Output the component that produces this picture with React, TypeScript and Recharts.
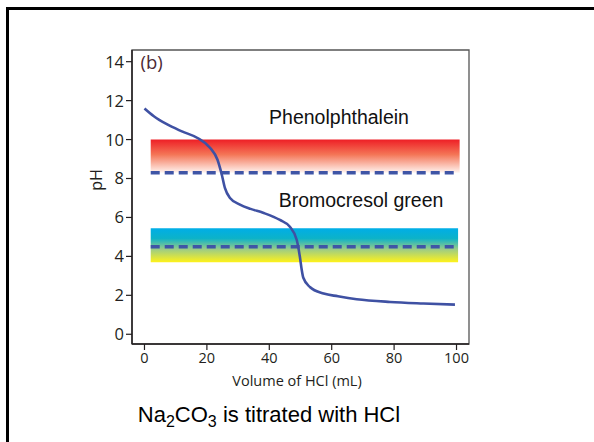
import React from 'react';
import { ComposedChart, Line, XAxis, YAxis, ReferenceArea, ReferenceLine } from 'recharts';

// Titration curve: volume of HCl (mL) vs pH
const volumes = [0, 3, 7, 12, 17, 21, 23.4, 24.8, 25.8, 27.4, 30.6, 34, 38, 43.4, 46.6, 48.8, 49.8, 50.4, 50.9, 53, 57.4, 62, 68, 78.7, 89.4, 99.5];
const phValues = [11.6, 11.2, 10.8, 10.42, 10.08, 9.58, 8.96, 8.18, 7.5, 7.0, 6.66, 6.44, 6.24, 5.87, 5.52, 4.84, 3.98, 3.3, 2.9, 2.43, 2.09, 1.95, 1.8, 1.66, 1.58, 1.52];

const xTicks = [0, 20, 40, 60, 80, 100];
const yTicks = [0, 2, 4, 6, 8, 10, 12, 14];
const xDomain = [-4, 104];
const yDomain = [-0.5, 14.6];

// Indicator ranges
const phenolRange = [8.3, 10];
const phenolEndpoint = 8.3;
const phenolX = [2, 101];
const bcgRange = [3.7, 5.45];
const bcgEndpoint = 4.5;
const bcgX = [2, 100.5];

const data = volumes.map((v, i) => ({ v, ph: phValues[i] }));

const tickColor = '#231f20';
const curveColor = '#3f51a3';
const dashColor = '#3f55a6';

const XTick = (props: any) => {
  const { x, y, payload } = props;
  return (
    <text x={x} y={y} dy="0.75em" textAnchor="middle" fontFamily="Open Sans" fontSize={14.5} fill={tickColor}>
      {payload.value}
    </text>
  );
};

const YTick = (props: any) => {
  const { x, y, payload } = props;
  return (
    <text x={x} y={y} dy="0.36em" textAnchor="end" fontFamily="Open Sans" fontSize={16.5} fill={tickColor}>
      {payload.value}
    </text>
  );
};

export default function App() {
  return (
    <div style={{ position: 'absolute', left: 0, top: 0, width: 594, height: 442, overflow: 'hidden', background: '#fff' }}>
      <div
        style={{
          position: 'absolute',
          left: 6,
          top: 7,
          width: 700,
          height: 600,
          borderLeft: '3px solid #000',
          borderTop: '3px solid #000',
        }}
      />
      <div style={{ position: 'absolute', left: 0, top: 0 }}>
        <ComposedChart
          width={594}
          height={442}
          data={data}
          margin={{ top: 50, right: 125, bottom: 58, left: 72 }}
        >
          <defs>
            <linearGradient id="phenolGrad" x1="0" y1="0" x2="0" y2="1">
              <stop offset="0%" stopColor="#ee1f26" />
              <stop offset="45%" stopColor="#f47556" />
              <stop offset="100%" stopColor="#fff4f0" />
            </linearGradient>
            <linearGradient id="bcgGrad" x1="0" y1="0" x2="0" y2="1">
              <stop offset="0%" stopColor="#00aee8" />
              <stop offset="30%" stopColor="#0cb2c8" />
              <stop offset="62%" stopColor="#9ccc86" />
              <stop offset="100%" stopColor="#fff21a" />
            </linearGradient>
          </defs>
          <XAxis
            dataKey="v"
            type="number"
            domain={xDomain}
            ticks={xTicks}
            allowDataOverflow
            height={40}
            axisLine={{ stroke: tickColor, strokeWidth: 1.5 }}
            tickLine={{ stroke: tickColor, strokeWidth: 1.2 }}
            tickSize={6}
            tick={<XTick />}
          />
          <YAxis
            type="number"
            domain={yDomain}
            ticks={yTicks}
            allowDataOverflow
            width={60}
            axisLine={{ stroke: tickColor, strokeWidth: 1.5 }}
            tickLine={{ stroke: tickColor, strokeWidth: 1.2 }}
            tickSize={6}
            tick={<YTick />}
          />
          <ReferenceArea
            x1={xDomain[0]}
            x2={xDomain[1]}
            y1={yDomain[0]}
            y2={yDomain[1]}
            fill="none"
            stroke="#555"
            strokeWidth={1.3}
            fillOpacity={0}
          />
          <ReferenceArea
            x1={phenolX[0]}
            x2={phenolX[1]}
            y1={phenolRange[0]}
            y2={phenolRange[1]}
            fill="url(#phenolGrad)"
            fillOpacity={1}
            stroke="none"
          />
          <ReferenceArea
            x1={bcgX[0]}
            x2={bcgX[1]}
            y1={bcgRange[0]}
            y2={bcgRange[1]}
            fill="url(#bcgGrad)"
            fillOpacity={1}
            stroke="none"
          />
          <ReferenceLine
            segment={[{ x: phenolX[0], y: phenolEndpoint }, { x: phenolX[1] - 0.8, y: phenolEndpoint }]}
            stroke={dashColor}
            strokeWidth={3.5}
            strokeDasharray="9 5"
          />
          <ReferenceLine
            segment={[{ x: bcgX[0], y: bcgEndpoint }, { x: bcgX[1] - 0.8, y: bcgEndpoint }]}
            stroke={dashColor}
            strokeWidth={3.5}
            strokeDasharray="9 5"
          />
          <Line
            dataKey="ph"
            type="monotone"
            stroke={curveColor}
            strokeWidth={2.6}
            dot={false}
            isAnimationActive={false}
          />
        </ComposedChart>
      </div>
      <svg width={594} height={442} style={{ position: 'absolute', left: 0, top: 0, pointerEvents: 'none' }}>
        <text x={140.5} y={69} fontFamily="Open Sans" fontSize={18.5} fill="#4d2a35">(b)</text>
        <text
          x={96}
          y={180}
          fontFamily="Open Sans"
          fontSize={16}
          fill={tickColor}
          textAnchor="middle"
          dominantBaseline="central"
          transform="rotate(-90 96 180)"
        >
          pH
        </text>
        <text x={297} y={386} fontFamily="Open Sans" fontSize={14.5} fill={tickColor} textAnchor="middle">
          Volume of HCl (mL)
        </text>
        <text x={339} y={123.5} fontFamily="Liberation Sans" fontSize={19.5} fill="#111" textAnchor="middle">
          Phenolphthalein
        </text>
        <text x={361} y={207} fontFamily="Liberation Sans" fontSize={19.5} fill="#111" textAnchor="middle">
          Bromocresol green
        </text>
        <text x={269} y={422} fontFamily="Liberation Sans" fontSize={22} fill="#000" textAnchor="middle">
          Na<tspan fontSize={16} dy={5}>2</tspan>
          <tspan dy={-5}>CO</tspan>
          <tspan fontSize={16} dy={5}>3</tspan>
          <tspan dy={-5}> is titrated with HCl</tspan>
        </text>
      </svg>
    </div>
  );
}
